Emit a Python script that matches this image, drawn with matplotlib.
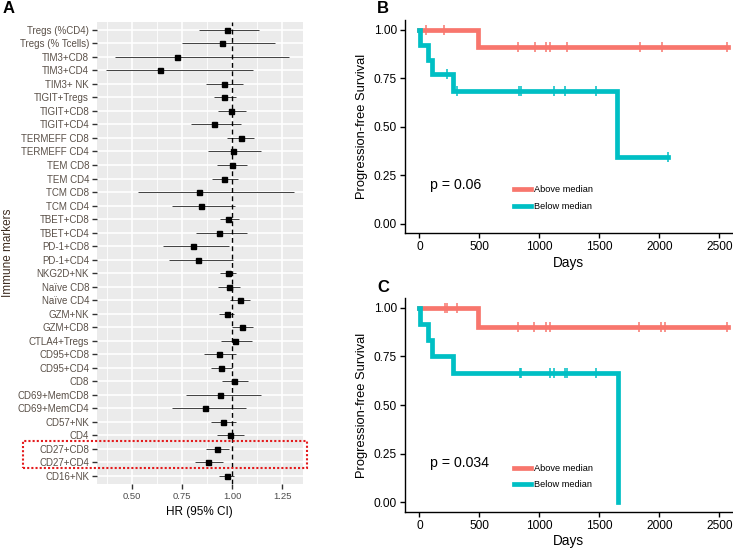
import matplotlib
matplotlib.use("Agg")
import matplotlib.pyplot as plt
import matplotlib.transforms as mtransforms
from matplotlib.patches import Rectangle
from matplotlib.lines import Line2D
import numpy as np

plt.rcParams['font.family'] = ['Liberation Sans', 'DejaVu Sans']

# ---------------- Panel A data (top to bottom) ----------------
markers = ["Tregs (%CD4)", "Tregs (% Tcells)", "TIM3+CD8", "TIM3+CD4", "TIM3+ NK",
           "TIGIT+Tregs", "TIGIT+CD8", "TIGIT+CD4", "TERMEFF CD8", "TERMEFF CD4",
           "TEM CD8", "TEM CD4", "TCM CD8", "TCM CD4", "TBET+CD8", "TBET+CD4",
           "PD-1+CD8", "PD-1+CD4", "NKG2D+NK", "Naïve CD8", "Naïve CD4", "GZM+NK",
           "GZM+CD8", "CTLA4+Tregs", "CD95+CD8", "CD95+CD4", "CD8", "CD69+MemCD8",
           "CD69+MemCD4", "CD57+NK", "CD4", "CD27+CD8", "CD27+CD4", "CD16+NK"]
hr = [0.972, 0.950, 0.725, 0.637, 0.957, 0.958, 0.993, 0.910, 1.042, 1.002,
      0.997, 0.960, 0.834, 0.843, 0.980, 0.933, 0.802, 0.830, 0.977, 0.982,
      1.037, 0.972, 1.048, 1.015, 0.933, 0.943, 1.010, 0.938, 0.863, 0.955,
      0.988, 0.925, 0.880, 0.972]
ci_low = [0.834, 0.748, 0.412, 0.368, 0.870, 0.907, 0.929, 0.792, 0.975, 0.880,
          0.925, 0.900, 0.530, 0.698, 0.938, 0.817, 0.652, 0.683, 0.938, 0.929,
          0.988, 0.933, 1.000, 0.943, 0.858, 0.893, 0.948, 0.768, 0.698, 0.893,
          0.925, 0.868, 0.812, 0.935]
ci_high = [1.135, 1.212, 1.282, 1.105, 1.052, 1.017, 1.068, 1.045, 1.110, 1.143,
           1.073, 1.028, 1.308, 1.015, 1.033, 1.072, 0.985, 1.002, 1.017, 1.040,
           1.090, 1.008, 1.105, 1.097, 1.017, 1.000, 1.080, 1.143, 1.067, 1.020,
           1.057, 0.985, 0.952, 1.010]
x_ticks_A = [0.50, 0.75, 1.00, 1.25]
highlight = ["CD27+CD8", "CD27+CD4"]

# ---------------- Panel B / C data ----------------
# step curves: times where the curve changes and the level after the change
B_above_t = [0, 492, 2573]
B_above_s = [1.0, 0.909, 0.909]
B_above_cens = [55, 205, 825, 961, 1055, 1092, 1233, 1839, 2019, 2567]
B_below_t = [0, 5, 75, 103, 278, 1644, 2069]
B_below_s = [1.0, 0.923, 0.846, 0.769, 0.684, 0.342, 0.342]
B_below_cens = [228, 311, 833, 845, 1122, 1211, 1472, 2069]

C_above_t = [0, 492, 2573]
C_above_s = [1.0, 0.90, 0.90]
C_above_cens = [214, 230, 311, 825, 958, 1056, 1089, 1833, 2017, 2050, 2561]
C_below_t = [0, 5, 75, 103, 283, 1656]
C_below_s = [1.0, 0.917, 0.833, 0.75, 0.667, 0.0]
C_below_cens = [839, 845, 1092, 1122, 1211, 1233, 1472]

km_ticks_x = [0, 500, 1000, 1500, 2000, 2500]
km_ticks_y = [0.00, 0.25, 0.50, 0.75, 1.00]
groups = ["Above median", "Below median"]
pvals = ["p = 0.06", "p = 0.034"]

RED = "#F8766D"
TEAL = "#00BFC4"

W, H = 733, 549
fig = plt.figure(figsize=(W / 100, H / 100), dpi=100)

def px_axes(l, t, r, b):
    return fig.add_axes([l / W, 1 - b / H, (r - l) / W, (b - t) / H])

# ================= Panel A =================
axA = px_axes(96.7, 21.7, 303, 484)
n = len(markers)
ypos = np.arange(n)[::-1] + 1  # first marker at top
axA.set_facecolor("#EBEBEB")
axA.set_xlim(0.322, 1.354)
axA.set_ylim(0.4, n + 0.6)
for xm in [0.375, 0.625, 0.875, 1.125]:
    axA.axvline(xm, color="white", lw=0.6, zorder=0)
for xm in x_ticks_A:
    axA.axvline(xm, color="white", lw=1.2, zorder=0)
for yy in ypos:
    axA.axhline(yy, color="white", lw=1.2, zorder=0)
axA.hlines(ypos, ci_low, ci_high, color="#222222", lw=0.6, zorder=2)
axA.plot(hr, ypos, "s", color="black", ms=3.6, zorder=3)
axA.axvline(1.0, color="black", lw=1.0, ls=(0, (3.5, 2.5)), zorder=4)
for s in axA.spines.values():
    s.set_visible(False)
axA.set_yticks(ypos)
axA.set_yticklabels(markers)
axA.set_xticks(x_ticks_A)
axA.set_xticklabels([f"{v:.2f}" for v in x_ticks_A])
axA.tick_params(axis="both", colors="#333333", labelcolor="#5A5048",
                labelsize=7.0, length=3.5, width=1.0, pad=2)
axA.tick_params(axis="x", labelcolor="#4D4D4D", labelsize=6.8)
axA.set_xlabel("HR (95% CI)", fontsize=8.5, labelpad=4)
axA.set_ylabel("Immune markers", fontsize=8.5, color="#3D2B1F")
axA.yaxis.set_label_coords(-0.40, 0.5)
# highlight box around CD27 rows
iy = [ypos[markers.index(m)] for m in highlight]
trans = mtransforms.blended_transform_factory(axA.transAxes, axA.transData)
rect = Rectangle((-0.357, min(iy) - 0.45), 1.376, max(iy) - min(iy) + 1.05,
                 transform=trans, fill=False, ec="#E41A1C", lw=1.5,
                 ls=(0, (1, 1)), clip_on=False, zorder=5)
axA.add_patch(rect)

# ================= Panels B and C =================
def km_panel(ax, curves, pval):
    for (t, s, cens), col, lab in zip(curves, [RED, TEAL], groups):
        ax.step(t, s, where="post", color=col, lw=3.4, solid_joinstyle="miter", zorder=3)
        tt = np.array(t)
        ss = np.array(s)
        cv = [ss[np.searchsorted(tt, c, side="right") - 1] for c in cens]
        ax.plot(cens, cv, ls="none", marker="|", color=col, ms=7.5, mew=1.1, zorder=4)
    ax.set_xlim(-122, 2614)
    ax.set_ylim(-0.05, 1.05)
    ax.set_xticks(km_ticks_x)
    ax.set_yticks(km_ticks_y)
    ax.set_yticklabels([f"{v:.2f}" for v in km_ticks_y])
    ax.spines["top"].set_visible(False)
    ax.spines["right"].set_visible(False)
    ax.spines["left"].set_linewidth(1.0)
    ax.spines["bottom"].set_linewidth(1.0)
    ax.tick_params(axis="both", colors="black", labelsize=8.6, length=3.5, width=1.0, pad=2)
    ax.set_xlabel("Days", fontsize=9.8, labelpad=2)
    ax.set_ylabel("Progression-free Survival", fontsize=9.3, labelpad=4)
    ax.text(90, 0.2, pval, fontsize=10.2, ha="left", va="center")
    handles = [Line2D([], [], color=RED, lw=3.4), Line2D([], [], color=TEAL, lw=3.4)]
    ax.legend(handles, groups, loc="center left", bbox_to_anchor=(0.333, 0.165),
              frameon=False, fontsize=6.7, handlelength=1.8, handletextpad=0.3,
              labelspacing=0.8, borderpad=0, borderaxespad=0)

axB = px_axes(404.7, 20, 733, 233.3)
km_panel(axB, [(B_above_t, B_above_s, B_above_cens),
               (B_below_t, B_below_s, B_below_cens)], pvals[0])
axC = px_axes(404.7, 298, 733, 512)
km_panel(axC, [(C_above_t, C_above_s, C_above_cens),
               (C_below_t, C_below_s, C_below_cens)], pvals[1])

# panel letters
for lab, x, y in [("A", 3, 8.5), ("B", 377, 8.5), ("C", 377, 287.5)]:
    fig.text(x / W, 1 - y / H, lab, fontsize=12, fontweight="bold", ha="left", va="center")

fig.savefig("out.png", dpi=100)
